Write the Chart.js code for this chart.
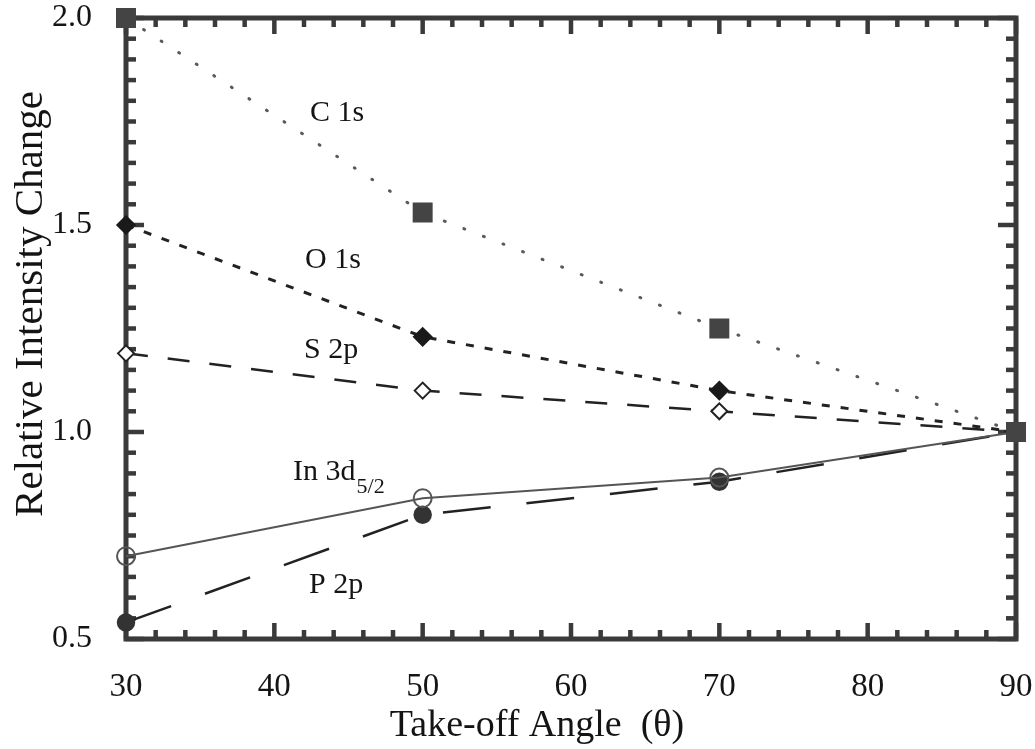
<!DOCTYPE html>
<html>
<head>
<meta charset="utf-8">
<script src="https://cdn.jsdelivr.net/npm/chart.js@4.4.1/dist/chart.umd.min.js"></script>
<style>
  html, body { margin: 0; padding: 0; background: #fff; }
  #wrap { width: 1035px; height: 749px; }
</style>
</head>
<body>
<div id="wrap"><canvas id="angle"></canvas></div>
<script>
const angles = [30, 50, 70, 90];
const c1s = [2.0, 1.53, 1.25, 1.0];
const o1s = [1.5, 1.23, 1.10, 1.0];
const s2p = [1.19, 1.10, 1.05, 1.0];
const in3d = [0.70, 0.84, 0.89, 1.0];
const p2p = [0.54, 0.80, 0.88, 1.0];

const xTicks = [30, 40, 50, 60, 70, 80, 90];
const yTicks = [0.5, 1.0, 1.5, 2.0];

const SERIF = "'Liberation Serif', 'Times New Roman', serif";
const INK = '#141414';

const pts = arr => angles.map((a, i) => ({x: a, y: arr[i]}));

// peak labels, anchored in data units (left edge, baseline)
const peakLabels = [
    {text: 'C 1s', x: 42.40, y: 1.751},
    {text: 'O 1s', x: 42.07, y: 1.396},
    {text: 'S 2p', x: 42.00, y: 1.179},
    {text: 'In 3d', sub: '5/2', x: 41.26, y: 0.884},
    {text: 'P 2p', x: 42.34, y: 0.611}
];

// thick box with inward ticks on all four sides
const frame = {
    id: 'frame',
    beforeDatasetsDraw(chart) {
        const {ctx, chartArea: a, scales: {x, y}} = chart;
        ctx.save();
        ctx.strokeStyle = '#3a3a3a';
        ctx.lineCap = 'butt';
        ctx.lineWidth = 4.5;
        const seg = (x1, y1, x2, y2) => {
            ctx.beginPath(); ctx.moveTo(x1, y1); ctx.lineTo(x2, y2); ctx.stroke();
        };
        for (let v = 30; v <= 90; v += 2) {
            const px = x.getPixelForValue(v);
            const len = v % 10 === 0 ? 16 : 9;
            seg(px, a.bottom, px, a.bottom - len);
            seg(px, a.top, px, a.top + len);
        }
        for (let i = 0; i <= 30; i++) {
            const py = y.getPixelForValue(0.5 + i * 0.05);
            const len = i % 10 === 0 ? 18 : 10;
            seg(a.left, py, a.left + len, py);
            seg(a.right, py, a.right - len, py);
        }
        ctx.lineWidth = 5;
        ctx.strokeRect(a.left, a.top, a.right - a.left, a.bottom - a.top);
        ctx.restore();
    },
    afterDatasetsDraw(chart) {
        const {ctx, scales: {x, y}} = chart;
        ctx.save();
        ctx.fillStyle = INK;
        ctx.textBaseline = 'alphabetic';
        ctx.textAlign = 'left';
        peakLabels.forEach(l => {
            const px = x.getPixelForValue(l.x);
            const py = y.getPixelForValue(l.y);
            ctx.font = '30px ' + SERIF;
            ctx.fillText(l.text, px, py);
            if (l.sub) {
                const w = ctx.measureText(l.text).width;
                ctx.font = '22px ' + SERIF;
                ctx.fillText(l.sub, px + w + 1, py + 13);
            }
        });
        // axis titles
        ctx.textAlign = 'center';
        ctx.font = '38px ' + SERIF;
        ctx.fillText('Take-off Angle  (θ)', 537, 736);
        ctx.translate(31, 304);
        ctx.rotate(-Math.PI / 2);
        ctx.textBaseline = 'middle';
        ctx.font = '41px ' + SERIF;
        ctx.fillText('Relative Intensity Change', 0, 0);
        ctx.restore();
    }
};

new Chart(document.getElementById('angle'), {
    type: 'line',
    data: {
        datasets: [{
            label: 'C 1s',
            data: pts(c1s),
            borderColor: '#5a5a5a',
            borderWidth: 3,
            borderDash: [1, 20],
            borderCapStyle: 'round',
            pointStyle: 'rect',
            pointRadius: 12,
            pointBackgroundColor: '#444',
            pointBorderColor: '#444',
            clip: false
        }, {
            label: 'O 1s',
            data: pts(o1s),
            borderColor: '#222',
            borderWidth: 3,
            borderDash: [8, 11],
            pointStyle: 'rectRot',
            pointRadius: 8,
            pointBackgroundColor: '#1a1a1a',
            pointBorderColor: '#1a1a1a',
            clip: false
        }, {
            label: 'S 2p',
            data: pts(s2p),
            borderColor: '#222',
            borderWidth: 2.5,
            borderDash: [22, 20],
            pointStyle: 'rectRot',
            pointRadius: 8,
            pointBackgroundColor: '#fff',
            pointBorderColor: '#222',
            pointBorderWidth: 2,
            clip: false
        }, {
            label: 'In 3d5/2',
            data: pts(in3d),
            borderColor: '#555',
            borderWidth: 2,
            pointStyle: 'circle',
            pointRadius: 9,
            pointBackgroundColor: 'rgba(255,255,255,0)',
            pointBorderColor: '#555',
            pointBorderWidth: 2,
            clip: false
        }, {
            label: 'P 2p',
            data: pts(p2p),
            borderColor: '#222',
            borderWidth: 2.5,
            borderDash: [48, 36],
            pointStyle: 'circle',
            pointRadius: 8,
            pointBackgroundColor: '#333',
            pointBorderColor: '#333',
            clip: false
        }]
    },
    options: {
        responsive: true,
        maintainAspectRatio: false,
        animation: false,
        events: [],
        layout: {padding: {top: 18, right: 19, left: 0, bottom: 0}},
        plugins: {legend: {display: false}, tooltip: {enabled: false}},
        scales: {
            x: {
                type: 'linear',
                min: 30,
                max: 90,
                afterBuildTicks: s => { s.ticks = xTicks.map(v => ({value: v})); },
                afterFit: s => { s.height = 110; s.paddingLeft = 0; s.paddingRight = 0; },
                grid: {display: false},
                border: {display: false},
                ticks: {
                    padding: 21,
                    color: INK,
                    maxRotation: 0,
                    font: {family: SERIF, size: 33}
                }
            },
            y: {
                min: 0.5,
                max: 2.0,
                afterBuildTicks: s => { s.ticks = yTicks.map(v => ({value: v})); },
                afterFit: s => { s.width = 126; s.paddingTop = 0; s.paddingBottom = 0; },
                grid: {display: false},
                border: {display: false},
                ticks: {
                    padding: 26,
                    color: INK,
                    font: {family: SERIF, size: 32},
                    callback: v => v.toFixed(1)
                }
            }
        }
    },
    plugins: [frame]
});
</script>
</body>
</html>
